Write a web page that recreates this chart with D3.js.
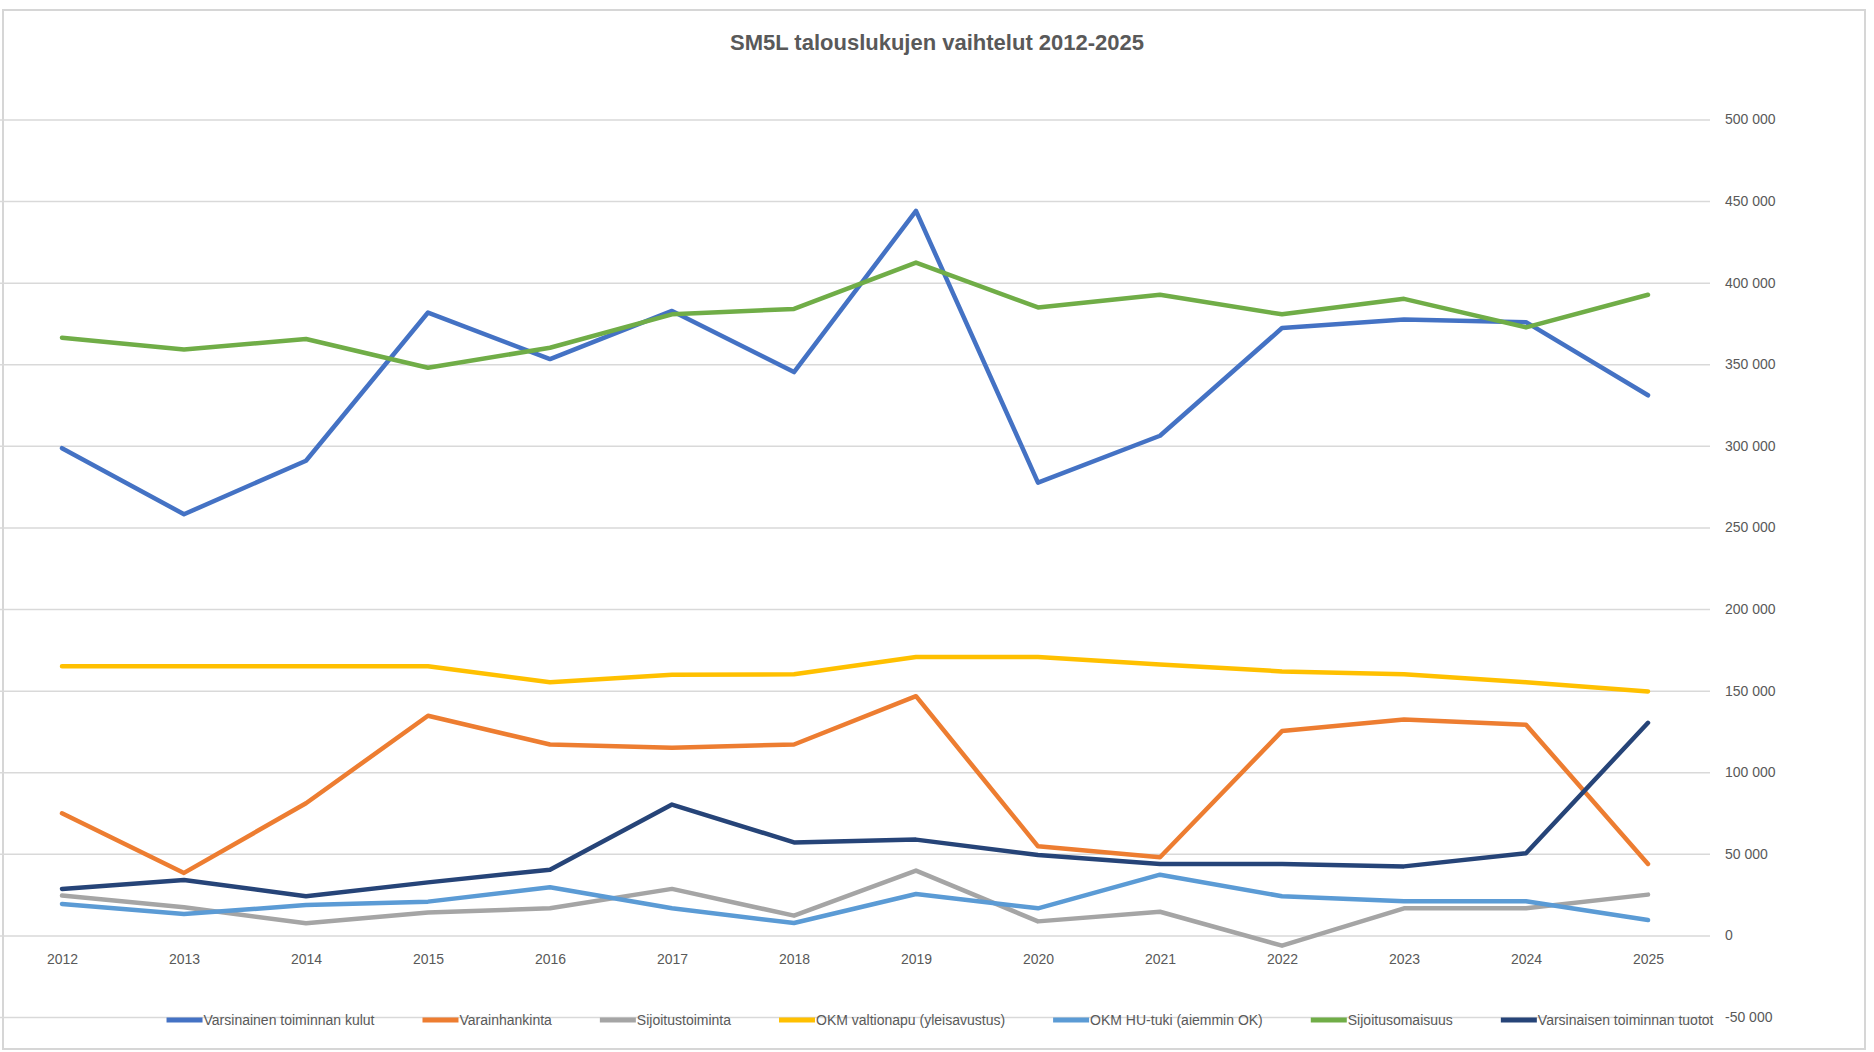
<!DOCTYPE html>
<html>
<head>
<meta charset="utf-8">
<script src="https://cdn.jsdelivr.net/npm/d3@7"></script>
<style>
  body { margin: 0; background: #fff; }
  text { font-family: "Liberation Sans", sans-serif; fill: #595959; }
</style>
</head>
<body>
<svg id="graph"></svg>
<script>
// years on the x axis
var years = ["2012","2013","2014","2015","2016","2017","2018","2019","2020","2021","2022","2023","2024","2025"]

// series
var kulut      = [298600, 258100, 290900, 381700, 353200, 382700, 345200, 444000, 277500, 306200, 372200, 377400, 375800, 331000]
var varainh    = [74800, 38300, 81000, 134600, 117000, 115000, 117000, 146600, 54600, 47900, 125200, 132300, 129100, 43800]
var sijtoim    = [24400, 17200, 7400, 14100, 16600, 28500, 12100, 39700, 8600, 14500, -6300, 16600, 16600, 25000]
var okmValtio  = [165000, 165000, 165000, 165000, 155200, 159800, 160000, 170600, 170600, 166000, 161800, 160000, 155200, 149500]
var okmHu      = [19300, 13100, 18600, 20700, 29500, 16600, 7600, 25400, 16600, 37200, 24000, 20900, 20900, 9400]
var sijOmais   = [366300, 359100, 365500, 347900, 360100, 380600, 383900, 412300, 384800, 392600, 380600, 390100, 372600, 392600]
var tuotot     = [28500, 34000, 24000, 32500, 40300, 80200, 57000, 58700, 49300, 43800, 43800, 42300, 50300, 130300]

var seriesNames = ["Varsinainen toiminnan kulut","Varainhankinta","Sijoitustoiminta","OKM valtionapu (yleisavustus)","OKM HU-tuki (aiemmin OK)","Sijoitusomaisuus","Varsinaisen toiminnan tuotot"]
var yTicks = [-50000, 0, 50000, 100000, 150000, 200000, 250000, 300000, 350000, 400000, 450000, 500000]

var colors = ["#4472C4","#ED7D31","#A5A5A5","#FFC000","#5B9BD5","#70AD47","#264478"]

window.onload = function(){
    var W = 1874, H = 1052
    var svg = d3.select("#graph").attr("width", W).attr("height", H)

    var allSeries = [kulut, varainh, sijtoim, okmValtio, okmHu, sijOmais, tuotot]

    var x = d3.scalePoint().domain(years).range([62, 1648])
    var y = d3.scaleLinear().domain([-50000, 500000]).range([1017, 119.5])

    var fi = d3.formatLocale({decimal: ",", thousands: " ", grouping: [3], currency: ["", ""], minus: "-"})
    var fmt = fi.format(",")

    // outer frame
    svg.append("rect")
        .attr("x", 3).attr("y", 10).attr("width", 1862).attr("height", 1039)
        .attr("fill", "none").attr("stroke", "#d6d6d6").attr("stroke-width", 2)

    // gridlines
    var grid = svg.append("g").attr("transform", "translate(1710,0)")
        .call(d3.axisLeft(y).tickValues(yTicks).tickSize(1710).tickFormat(""))
    grid.select(".domain").remove()
    grid.selectAll("line").attr("stroke", "#d9d9d9").attr("stroke-width", 1.5)

    // y labels on the right
    var yax = svg.append("g").attr("transform", "translate(1725,0)")
        .call(d3.axisRight(y).tickValues(yTicks).tickSize(0).tickPadding(0).tickFormat(fmt))
    yax.select(".domain").remove()
    yax.selectAll("text").attr("font-size", "14px").attr("fill", "#595959")
        .style("font-family", "'Liberation Sans',sans-serif")

    // x labels at zero line
    var xax = svg.append("g").attr("transform", "translate(0," + y(0) + ")")
        .call(d3.axisBottom(x).tickSize(0).tickPadding(19))
    xax.select(".domain").remove()
    xax.selectAll("text").attr("font-size", "14px").attr("fill", "#595959")
        .style("font-family", "'Liberation Sans',sans-serif")

    // lines
    var line = d3.line().x((d,i)=>x(years[i])).y(d=>y(d))
    svg.selectAll("path.series").data(allSeries).enter().append("path")
        .attr("class", "series")
        .attr("d", d=>line(d))
        .attr("fill", "none")
        .attr("stroke", (d,i)=>colors[i])
        .attr("stroke-width", 4.5)
        .attr("stroke-linejoin", "round")
        .attr("stroke-linecap", "round")

    // title
    svg.append("text")
        .attr("x", 937).attr("y", 50)
        .attr("text-anchor", "middle")
        .attr("font-size", "22px")
        .attr("font-weight", "bold")
        .text("SM5L talouslukujen vaihtelut 2012-2025")

    // legend, laid out left to right and centred
    var legend = svg.append("g").attr("transform", "translate(0,1020)")
    var items = legend.selectAll("g").data(seriesNames).enter().append("g")
    items.append("line")
        .attr("x1", 0).attr("x2", 36).attr("y1", 0).attr("y2", 0)
        .attr("stroke", (d,i)=>colors[i]).attr("stroke-width", 5)
    items.append("text")
        .attr("x", 37).attr("y", 5)
        .attr("font-size", "14px")
        .text(d=>d)
    var widths = []
    items.each(function(){ widths.push(d3.select(this).select("text").node().getComputedTextLength() + 37) })
    var gap = 48
    var total = d3.sum(widths) + gap*(widths.length-1)
    var pos = 940 - total/2
    items.attr("transform", function(d,i){
        var p = pos
        pos += widths[i] + gap
        return "translate(" + p + ",0)"
    })
}
</script>
</body>
</html>
